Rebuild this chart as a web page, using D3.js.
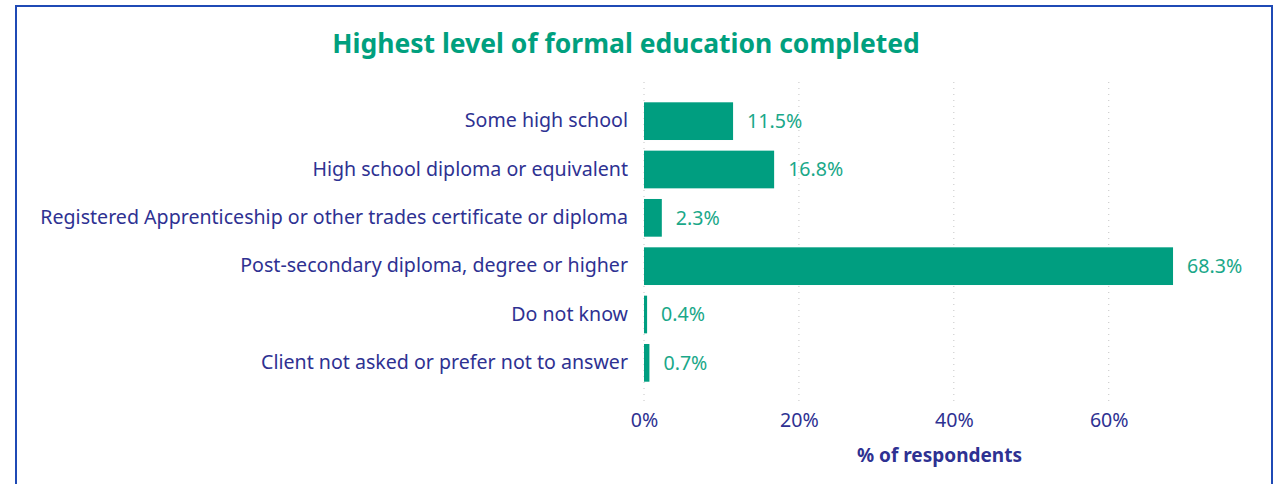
<!DOCTYPE html>
<html>
<head>
<meta charset="utf-8">
<script src="https://cdn.jsdelivr.net/npm/d3@7"></script>
<style>
  html, body { margin: 0; padding: 0; background: #ffffff; }
  svg { display: block; }
  text { font-family: "Noto Sans", "Open Sans", sans-serif; }
</style>
</head>
<body>
<svg id="chart" width="1278" height="484"></svg>
<script>
// Survey responses: highest level of formal education completed
const categories = [
  "Some high school",
  "High school diploma or equivalent",
  "Registered Apprenticeship or other trades certificate or diploma",
  "Post-secondary diploma, degree or higher",
  "Do not know",
  "Client not asked or prefer not to answer"
];
const values = [11.5, 16.8, 2.3, 68.3, 0.4, 0.7];
const tickValues = [0, 20, 40, 60];

const titleText = "Highest level of formal education completed";
const axisTitle = "% of respondents";

const W = 1278, H = 484;
const barColor = "#009e80";
const labelColor = "#2e3192";
const valueColor = "#1aa889";
const titleColor = "#00a07e";
const labelSize = 19.6;

const svg = d3.select("#chart");

// Frame around the visual
svg.append("rect")
  .attr("x", 16).attr("y", 6)
  .attr("width", 1256).attr("height", 490)
  .attr("fill", "none")
  .attr("stroke", "#1f4ab5")
  .attr("stroke-width", 2);

const plot = { left: 644, right: 1235, top: 82, bottom: 402 };

const x = d3.scaleLinear()
  .domain([0, 76.3])
  .range([plot.left, plot.right]);

const y = d3.scaleBand()
  .domain(categories)
  .range([plot.top, plot.bottom])
  .paddingInner(0.22)
  .paddingOuter(0.42);

// Title
svg.append("text")
  .attr("x", 626).attr("y", 53)
  .attr("text-anchor", "middle")
  .attr("fill", titleColor)
  .attr("font-size", 26.5)
  .attr("font-weight", 700)
  .text(titleText);

// Dotted vertical gridlines
svg.append("g")
  .selectAll("line")
  .data(tickValues)
  .join("line")
  .attr("x1", d => x(d)).attr("x2", d => x(d))
  .attr("y1", plot.top).attr("y2", plot.bottom)
  .attr("stroke", "#c4c4c4")
  .attr("stroke-width", 1)
  .attr("stroke-dasharray", "1,5");

// Bars
svg.append("g")
  .selectAll("rect")
  .data(values)
  .join("rect")
  .attr("x", x(0))
  .attr("y", (d, i) => y(categories[i]))
  .attr("width", d => x(d) - x(0))
  .attr("height", y.bandwidth())
  .attr("fill", barColor);

// Value labels
svg.append("g")
  .selectAll("text")
  .data(values)
  .join("text")
  .attr("x", d => x(d) + 14)
  .attr("y", (d, i) => y(categories[i]) + y.bandwidth() / 2)
  .attr("dy", "0.35em")
  .attr("fill", valueColor)
  .attr("font-size", labelSize)
  .text(d => d.toFixed(1) + "%");

// Category axis (left)
const yAxis = svg.append("g")
  .attr("transform", `translate(${plot.left},0)`)
  .call(d3.axisLeft(y).tickSize(0).tickPadding(16));
yAxis.select(".domain").remove();
yAxis.selectAll("text")
  .attr("fill", labelColor)
  .attr("font-size", labelSize)
  .attr("font-family", "Noto Sans, sans-serif");

// Value axis (bottom)
const xAxis = svg.append("g")
  .attr("transform", `translate(0,${plot.bottom})`)
  .call(d3.axisBottom(x).tickValues(tickValues).tickSize(0).tickPadding(11)
    .tickFormat(d => d + "%"));
xAxis.select(".domain").remove();
xAxis.selectAll("text")
  .attr("fill", labelColor)
  .attr("font-size", labelSize)
  .attr("font-family", "Noto Sans, sans-serif");

// Axis title
svg.append("text")
  .attr("x", (plot.left + plot.right) / 2)
  .attr("y", 462)
  .attr("text-anchor", "middle")
  .attr("fill", labelColor)
  .attr("font-size", 19)
  .attr("font-weight", 700)
  .text(axisTitle);
</script>
</body>
</html>
